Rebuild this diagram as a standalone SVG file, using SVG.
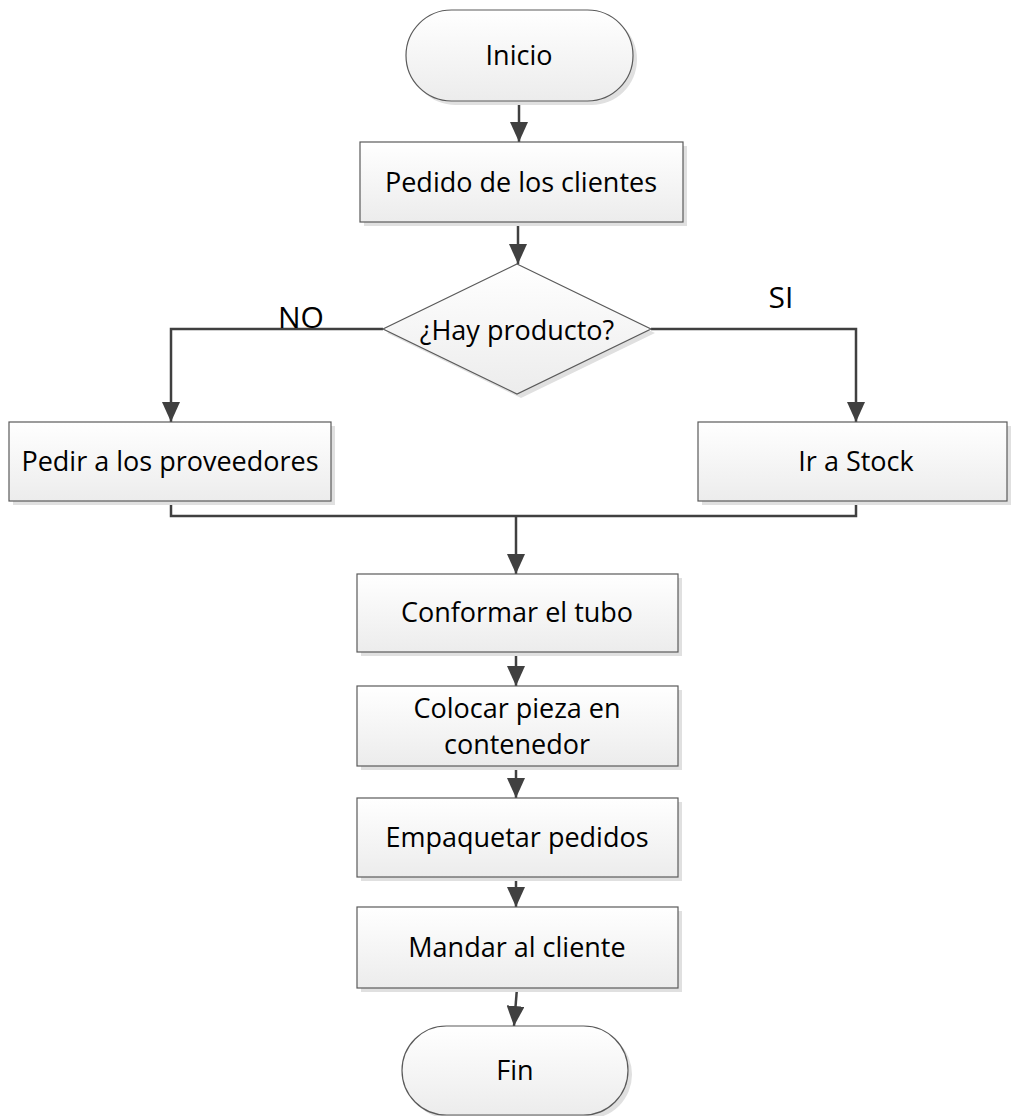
<svg xmlns="http://www.w3.org/2000/svg" width="1011" height="1116" viewBox="0 0 1011 1116">
<style>
.shape{fill:url(#g);stroke:#5a5a5a;stroke-width:1.2}
.sh{fill:#e0e0e0}
.t{font-family:"Open Sans","Liberation Sans",sans-serif;font-size:27px;fill:#000;text-anchor:middle}
.l{font-size:30px}
.c{fill:none;stroke:#404040;stroke-width:2.5}
</style>
<defs>
<linearGradient id="g" x1="0" y1="0" x2="0" y2="1">
<stop offset="0" stop-color="#ffffff"/>
<stop offset="1" stop-color="#ececec"/>
</linearGradient>
<marker id="ah" viewBox="0 0 20 18" refX="20" refY="9" markerWidth="20" markerHeight="18" markerUnits="userSpaceOnUse" orient="auto">
<path d="M0,0 L20,9 L0,18 z" fill="#404040"/>
</marker>
</defs>
<g id="connectors">
<path class="c" d="M519,101 V142" marker-end="url(#ah)"/>
<path class="c" d="M518,222 V264" marker-end="url(#ah)"/>
<path class="c" d="M383,329 H171 V422" marker-end="url(#ah)"/>
<path class="c" d="M651,329 H856 V422" marker-end="url(#ah)"/>
<path class="c" d="M171,501 V516 H856 V501"/>
<path class="c" d="M516,516 V574" marker-end="url(#ah)"/>
<path class="c" d="M516,652 V686" marker-end="url(#ah)"/>
<path class="c" d="M516,766 V798" marker-end="url(#ah)"/>
<path class="c" d="M516,877 V907" marker-end="url(#ah)"/>
<path class="c" d="M517,988 L514,1026" marker-end="url(#ah)"/>
<text class="t l" x="301" y="328">NO</text>
<text class="t l" x="781" y="308">SI</text>
</g>
<g id="inicio">
<rect class="sh" x="410" y="14" width="227" height="91" rx="45.5"/>
<rect class="shape" x="406" y="10" width="227" height="91" rx="45.5"/>
<text class="t" x="519" y="65">Inicio</text>
</g>
<g id="pedido">
<rect class="sh" x="364" y="146" width="323" height="80"/>
<rect class="shape" x="360" y="142" width="323" height="80"/>
<text class="t" x="521" y="192">Pedido de los clientes</text>
</g>
<g id="decision">
<polygon class="sh" points="521,268 655,333 521,398 387,333"/>
<polygon class="shape" points="517,264 651,329 517,394 383,329"/>
<text class="t" x="517" y="340">¿Hay producto?</text>
</g>
<g id="pedir">
<rect class="sh" x="13" y="426" width="322" height="79"/>
<rect class="shape" x="9" y="422" width="322" height="79"/>
<text class="t" x="170" y="471">Pedir a los proveedores</text>
</g>
<g id="stock">
<rect class="sh" x="702" y="426" width="309" height="79"/>
<rect class="shape" x="698" y="422" width="309" height="79"/>
<text class="t" x="856" y="471">Ir a Stock</text>
</g>
<g id="conformar">
<rect class="sh" x="361" y="578" width="321" height="78"/>
<rect class="shape" x="357" y="574" width="321" height="78"/>
<text class="t" x="517" y="622">Conformar el tubo</text>
</g>
<g id="colocar">
<rect class="sh" x="361" y="690" width="321" height="80"/>
<rect class="shape" x="357" y="686" width="321" height="80"/>
<text class="t" x="517" y="718">Colocar pieza en</text>
<text class="t" x="517" y="754">contenedor</text>
</g>
<g id="empaquetar">
<rect class="sh" x="361" y="802" width="321" height="79"/>
<rect class="shape" x="357" y="798" width="321" height="79"/>
<text class="t" x="517" y="847">Empaquetar pedidos</text>
</g>
<g id="mandar">
<rect class="sh" x="361" y="911" width="321" height="81"/>
<rect class="shape" x="357" y="907" width="321" height="81"/>
<text class="t" x="517" y="957">Mandar al cliente</text>
</g>
<g id="fin">
<rect class="sh" x="406" y="1030" width="226" height="89" rx="44.5"/>
<rect class="shape" x="402" y="1026" width="226" height="89" rx="44.5"/>
<text class="t" x="515" y="1080">Fin</text>
</g>
</svg>
